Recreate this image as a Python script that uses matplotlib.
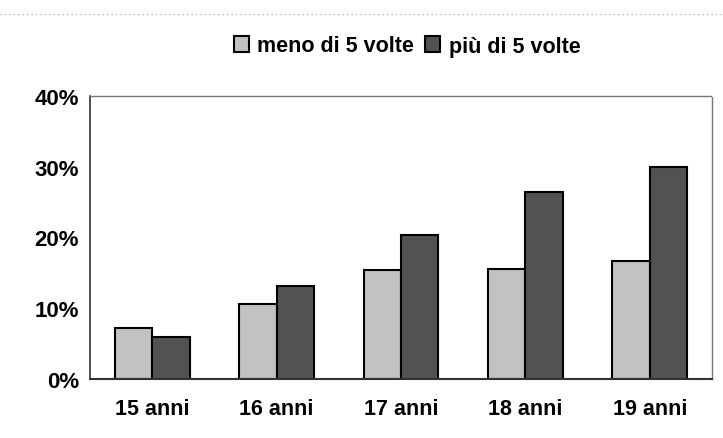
import matplotlib.pyplot as plt
import numpy as np

# dati
categorie = ["15 anni", "16 anni", "17 anni", "18 anni", "19 anni"]
meno_di_5 = [7.2, 10.6, 15.4, 15.5, 16.7]
piu_di_5 = [5.9, 13.1, 20.4, 26.4, 30.0]
etichette_y = ["0%", "10%", "20%", "30%", "40%"]

plt.rcParams["font.family"] = ["Liberation Sans", "DejaVu Sans"]
plt.rcParams["font.weight"] = "bold"

fig = plt.figure(figsize=(7.23, 4.39), dpi=100)
ax = fig.add_axes([90 / 723, 1 - 380 / 439, 622 / 723, 283 / 439])

x = np.arange(len(categorie))
w = 0.3
ax.bar(x - w / 2, meno_di_5, w, color="#c2c2c2", edgecolor="black", linewidth=1.5,
       label="meno di 5 volte")
ax.bar(x + w / 2, piu_di_5, w, color="#525252", edgecolor="black", linewidth=1.5,
       label="più di 5 volte")

ax.set_xlim(-0.5, len(categorie) - 0.5)
ax.set_ylim(0, 40)
ax.set_yticks([0, 10, 20, 30, 40])
ax.set_yticklabels(etichette_y, fontsize=16, fontweight="bold")
ax.set_xticks(x)
ax.set_xticklabels(categorie, fontsize=15.5, fontweight="bold")
ax.tick_params(length=0)
ax.tick_params(axis="y", pad=8)
ax.tick_params(axis="x", pad=14)

for s in ["top", "right"]:
    ax.spines[s].set_color("#777777")
    ax.spines[s].set_linestyle((0, (1, 1)))
    ax.spines[s].set_linewidth(1)
ax.spines["left"].set_color("#333333")
ax.spines["left"].set_linewidth(1.2)
ax.spines["bottom"].set_color("#333333")
ax.spines["bottom"].set_linewidth(1.5)

fig.legend(loc="center", bbox_to_anchor=(407 / 723, 1 - 47 / 439), ncol=2, frameon=False,
           handlelength=0.7, handleheight=0.7, handletextpad=0.4,
           columnspacing=0.5, prop={"weight": "bold", "size": 15.5})

# linea tratteggiata in alto (bordo del titolo tagliato)
fig.add_artist(plt.Line2D([0.0, 1.0], [1 - 15 / 439, 1 - 15 / 439], color="#999999",
                          linestyle=(0, (1, 3)), linewidth=0.8))

fig.savefig("out.png", dpi=100)
